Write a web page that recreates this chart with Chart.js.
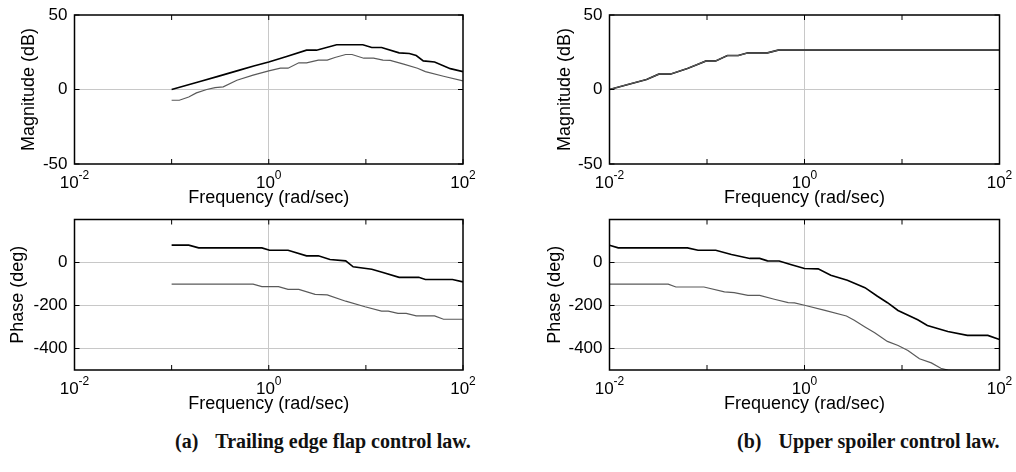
<!DOCTYPE html>
<html>
<head>
<meta charset="utf-8">
<script src="https://cdn.jsdelivr.net/npm/chart.js@4.4.0/dist/chart.umd.min.js"></script>
<style>
body { margin:0; background:#fff; width:1016px; height:472px; position:relative; overflow:hidden; }
canvas { position:absolute; }
.cap { position:absolute; top:431px; font:bold 20px "Liberation Serif", "Times New Roman", serif; line-height:20px; white-space:nowrap; color:#111; }
.cap span { margin-left:12px; }
</style>
</head>
<body>
<canvas id="magA" width="500" height="215" style="left:0;top:0"></canvas>
<canvas id="phaseA" width="500" height="210" style="left:0;top:215px"></canvas>
<canvas id="magB" width="516" height="215" style="left:500px;top:0"></canvas>
<canvas id="phaseB" width="516" height="210" style="left:500px;top:215px"></canvas>
<div class="cap" style="left:175px">(a) <span>Trailing edge flap control law.</span></div>
<div class="cap" style="left:737px">(b) <span>Upper spoiler control law.</span></div>
<script>
// valeurs (freq en rad/sec)
const xTicks = [0.01, 1, 100];
const xExp = ['-2', '0', '2'];
const decades = [0.01, 0.1, 1, 10, 100];
const magTicks = [-50, 0, 50];
const phaseTicks = [-400, -200, 0];

// (a) volet de bord de fuite
const flapMagF1 = [0.1, 0.2, 0.3, 0.5, 0.7, 1, 1.5, 2.45, 3.1, 5, 9.3, 11.5, 14.5, 22, 28, 33, 39, 51, 74, 100];
const flapMag1 = [0, 5.5, 8.8, 13, 15.8, 18.5, 22, 26.4, 26.4, 30, 30, 28.2, 28.2, 24.6, 24.2, 22.8, 19.2, 18.5, 14, 12];
const flapMagF2 = [0.1, 0.12, 0.15, 0.18, 0.23, 0.28, 0.34, 0.47, 0.69, 1, 1.32, 1.58, 2.04, 2.45, 3.24, 4, 4.8, 6.2, 7.2, 9.5, 12, 15, 17.8, 24.5, 34, 41, 63, 100];
const flapMag2 = [-7.2, -7.2, -5, -2.3, 0, 1.3, 1.8, 6.2, 9.6, 12.5, 14.3, 14.3, 17.9, 17.9, 19.7, 19.7, 21.5, 23.5, 23.5, 21, 21, 19.7, 19.5, 17, 14.3, 12, 8.9, 5.8];
const flapPhF1 = [0.1, 0.15, 0.19, 0.85, 1.02, 1.58, 2.45, 3.24, 4.27, 6.2, 7.4, 11.5, 15, 22, 35, 41, 78, 100];
const flapPh1 = [80.7, 80.7, 68, 68, 57, 57, 31, 31, 14, 7.6, -20, -31, -47, -69, -69, -79, -79, -90];
const flapPhF2 = [0.1, 0.69, 0.85, 1.26, 1.58, 2.04, 3.0, 4, 6.2, 9.8, 14.5, 17, 21.4, 26, 33, 51, 63, 100];
const flapPh2 = [-101, -101, -112, -112, -125, -125, -148, -151, -180, -206, -226, -226, -237, -237, -248, -248, -264, -264];

// (b) spoiler
const spoilMagF = [0.01, 0.0155, 0.024, 0.032, 0.042, 0.063, 0.081, 0.098, 0.123, 0.162, 0.209, 0.263, 0.417, 0.537, 100];
const spoilMag1 = [0, 3.4, 6.7, 10.3, 10.3, 14.1, 17, 19.2, 19.2, 22.8, 22.8, 24.6, 24.6, 26.4, 26.4];
const spoilMag2 = [0, 3.4, 6.7, 10.3, 10.3, 14.1, 17, 19.2, 19.2, 22.8, 22.8, 24.6, 24.6, 26.4, 26.4];
const spoilPhF1 = [0.01, 0.0123, 0.063, 0.081, 0.123, 0.178, 0.275, 0.347, 0.417, 0.55, 0.72, 1, 1.38, 1.86, 2.75, 4.17, 5.6, 7.1, 9.1, 14.5, 18.2, 29.5, 46.8, 75.9, 100];
const spoilPh1 = [80.7, 68, 68, 57, 57, 37, 19, 19, 7.6, 7, -9.3, -28, -29.5, -59, -83, -117, -157, -187, -223, -266, -293, -321, -339, -339, -358];
const spoilPhF2 = [0.01, 0.04, 0.048, 0.093, 0.151, 0.19, 0.263, 0.347, 0.49, 0.68, 0.79, 1, 1.62, 2.69, 3.24, 4.17, 5.25, 7.08, 9.12, 11.5, 15.1, 20, 25, 29.5, 40, 100];
const spoilPh2 = [-101, -101, -114, -114, -137, -140, -153, -153, -171, -187, -188, -199, -223, -249, -269, -300, -327, -367, -386, -409, -448, -467, -492, -500, -512, -545];

const family = '"Liberation Sans", Arial, sans-serif';
const gridCol = '#c8c8c8';

function pts(f, v) {
    return f.map((x, i) => ({ x: x, y: v[i] }));
}

// cadre, graduations vers l'interieur et etiquettes 10^n
const boxPlugin = {
    id: 'box',
    afterDraw(chart) {
        const { ctx, chartArea: a, scales: { x, y } } = chart;
        ctx.save();
        ctx.strokeStyle = '#000';
        ctx.lineWidth = 1;
        ctx.beginPath();
        decades.forEach(v => {
            const px = x.getPixelForValue(v);
            ctx.moveTo(px, a.bottom); ctx.lineTo(px, a.bottom - 5);
            ctx.moveTo(px, a.top); ctx.lineTo(px, a.top + 5);
        });
        y.ticks.forEach(t => {
            const py = y.getPixelForValue(t.value);
            ctx.moveTo(a.left, py); ctx.lineTo(a.left + 5, py);
            ctx.moveTo(a.right, py); ctx.lineTo(a.right - 5, py);
        });
        ctx.stroke();
        ctx.lineWidth = 1.5;
        ctx.strokeRect(a.left, a.top, a.right - a.left, a.bottom - a.top);
        ctx.fillStyle = '#000';
        ctx.textBaseline = 'alphabetic';
        xTicks.forEach((v, i) => {
            const px = x.getPixelForValue(v);
            ctx.font = '17px ' + family;
            const wb = ctx.measureText('10').width;
            ctx.font = '12px ' + family;
            const we = ctx.measureText(xExp[i]).width;
            const x0 = px - (wb + we) / 2;
            ctx.font = '17px ' + family;
            ctx.fillText('10', x0, a.bottom + 24);
            ctx.font = '12px ' + family;
            ctx.fillText(xExp[i], x0 + wb, a.bottom + 15);
        });
        ctx.restore();
    }
};

function makeChart(id, o) {
    new Chart(document.getElementById(id), {
        type: 'line',
        data: {
            datasets: [
                { data: pts(o.f2, o.v2), borderColor: '#5a5a5a', borderWidth: 1.2 },
                { data: pts(o.f1, o.v1), borderColor: '#000', borderWidth: 1.6 }
            ]
        },
        options: {
            responsive: false,
            animation: false,
            devicePixelRatio: 1,
            layout: { padding: o.pad },
            elements: { point: { radius: 0 }, line: { tension: 0 } },
            plugins: { legend: { display: false }, tooltip: { enabled: false } },
            scales: {
                x: {
                    type: 'logarithmic', min: 0.01, max: 100,
                    afterBuildTicks: s => { s.ticks = xTicks.map(v => ({ value: v })); },
                    afterFit: s => { s.height = 44.5; s.paddingLeft = 0; s.paddingRight = 0; },
                    ticks: { display: false },
                    grid: { color: c => (c.tick && c.tick.value === 1 ? gridCol : 'rgba(0,0,0,0)'), drawTicks: false },
                    border: { display: false },
                    title: { display: true, text: 'Frequency (rad/sec)', font: { family: family, size: 18 }, color: '#000', padding: 0 }
                },
                y: {
                    min: o.min, max: o.max,
                    afterBuildTicks: s => { s.ticks = o.yt.map(v => ({ value: v })); },
                    afterFit: s => { s.width = o.yw; s.paddingTop = 0; s.paddingBottom = 0; },
                    ticks: { font: { family: family, size: 17 }, color: '#000', padding: 7 },
                    grid: { color: c => (c.tick && c.tick.value !== o.min && c.tick.value !== o.max ? gridCol : 'rgba(0,0,0,0)'), drawTicks: false },
                    border: { display: false },
                    title: { display: true, text: o.title, font: { family: family, size: 18 }, color: '#000', padding: 0 }
                }
            }
        },
        plugins: [boxPlugin]
    });
}

makeChart('magA', { f1: flapMagF1, v1: flapMag1, f2: flapMagF2, v2: flapMag2, min: -50, max: 50, yt: magTicks, yw: 56.5,
    title: 'Magnitude (dB)', pad: { left: 18, right: 37, top: 15, bottom: 6.5 } });
makeChart('phaseA', { f1: flapPhF1, v1: flapPh1, f2: flapPhF2, v2: flapPh2, min: -500, max: 200, yt: phaseTicks, yw: 67,
    title: 'Phase (deg)', pad: { left: 7.5, right: 37, top: 4.5, bottom: 10.5 } });
makeChart('magB', { f1: spoilMagF, v1: spoilMag1, f2: spoilMagF, v2: spoilMag2, min: -50, max: 50, yt: magTicks, yw: 55.3,
    title: 'Magnitude (dB)', pad: { left: 54.2, right: 16.5, top: 15, bottom: 6.5 } });
makeChart('phaseB', { f1: spoilPhF1, v1: spoilPh1, f2: spoilPhF2, v2: spoilPh2, min: -500, max: 200, yt: phaseTicks, yw: 65.5,
    title: 'Phase (deg)', pad: { left: 44, right: 16.5, top: 4.5, bottom: 10.5 } });
</script>
</body>
</html>
